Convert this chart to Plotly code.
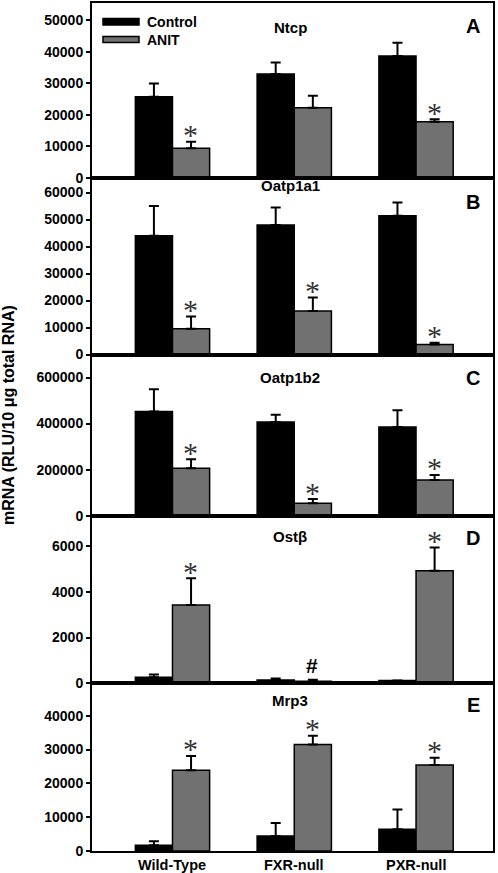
import plotly.graph_objects as go
from plotly.subplots import make_subplots

groups = ["Wild-Type", "FXR-null", "PXR-null"]
series_names = ["Control", "ANIT"]

genes = ["Ntcp", "Oatp1a1", "Oatp1b2", "Ostβ", "Mrp3"]
letters = ["A", "B", "C", "D", "E"]

ntcp_control = [25700, 32900, 38600]
ntcp_control_err = [4200, 3700, 4200]
ntcp_anit = [9400, 22200, 17800]
ntcp_anit_err = [2100, 3800, 800]
ntcp_sig = ["*", "", "*"]

oatp1a1_control = [44000, 48000, 51400]
oatp1a1_control_err = [11000, 6500, 4900]
oatp1a1_anit = [9500, 16100, 3700]
oatp1a1_anit_err = [4600, 5000, 700]
oatp1a1_sig = ["*", "*", "*"]

oatp1b2_control = [452000, 407000, 385000]
oatp1b2_control_err = [97000, 31000, 73000]
oatp1b2_anit = [206000, 54000, 155000]
oatp1b2_anit_err = [39000, 18000, 22000]
oatp1b2_sig = ["*", "*", "*"]

ostb_control = [260, 140, 120]
ostb_control_err = [120, 70, 0]
ostb_anit = [3420, 90, 4920]
ostb_anit_err = [1170, 60, 1010]
ostb_sig = ["*", "#", "*"]

mrp3_control = [1700, 4400, 6400]
mrp3_control_err = [1200, 3900, 5900]
mrp3_anit = [23900, 31500, 25400]
mrp3_anit_err = [4200, 2600, 2200]
mrp3_sig = ["*", "*", "*"]

y_ticks = [
    [0, 10000, 20000, 30000, 40000, 50000],
    [0, 10000, 20000, 30000, 40000, 50000, 60000],
    [0, 200000, 400000, 600000],
    [0, 2000, 4000, 6000],
    [0, 10000, 20000, 30000, 40000],
]
y_ranges = [[0, 55400], [0, 65400], [0, 700000], [0, 7325], [0, 49600]]

panels = [
    (ntcp_control, ntcp_control_err, ntcp_anit, ntcp_anit_err, ntcp_sig),
    (oatp1a1_control, oatp1a1_control_err, oatp1a1_anit, oatp1a1_anit_err, oatp1a1_sig),
    (oatp1b2_control, oatp1b2_control_err, oatp1b2_anit, oatp1b2_anit_err, oatp1b2_sig),
    (ostb_control, ostb_control_err, ostb_anit, ostb_anit_err, ostb_sig),
    (mrp3_control, mrp3_control_err, mrp3_anit, mrp3_anit_err, mrp3_sig),
]

W, H = 498, 873
m_l, m_r, m_t, m_b = 92, 5, 3, 22
plot_h = H - m_t - m_b
# panel boundaries in pixels (top of figure = 0)
bounds = [3, 178, 354.5, 515.7, 683.3, 851]
domains = []
for i in range(5):
    top = bounds[i]
    bot = bounds[i + 1]
    domains.append([(H - m_b - bot) / plot_h, (H - m_b - top) / plot_h])

title_off = [24, 7, 23, 21, 17.5]
letter_off = [23, 24, 23, 22, 22]

fig = make_subplots(rows=5, cols=1, shared_xaxes=True, vertical_spacing=0)

BLACK = "#000000"
GRAY = "#717171"
annotations = []

for i, (c, ce, a, ae, sig) in enumerate(panels):
    r = i + 1
    fig.add_trace(go.Bar(
        x=groups, y=c, name=series_names[0], showlegend=False,
        marker=dict(color=BLACK, line=dict(color=BLACK, width=1.5)),
        error_y=dict(type="data", array=ce, arrayminus=[0] * 3, symmetric=False,
                     color=BLACK, thickness=2, width=5),
    ), row=r, col=1)
    fig.add_trace(go.Bar(
        x=groups, y=a, name=series_names[1], showlegend=False,
        marker=dict(color=GRAY, line=dict(color=BLACK, width=1.5)),
        error_y=dict(type="data", array=ae, arrayminus=[0] * 3, symmetric=False,
                     color=BLACK, thickness=2, width=5),
    ), row=r, col=1)
    xa = "x" if r == 1 else f"x{r}"
    ya = "y" if r == 1 else f"y{r}"
    for g, v, e, s in zip(groups, a, ae, sig):
        if not s:
            continue
        if s == "*":
            annotations.append(dict(
                x=g, y=v + e, xref=xa, yref=ya, text="*", showarrow=False,
                xshift=18, yshift=7, yanchor="middle",
                font=dict(family="Liberation Serif", size=30, color="#333333")))
        else:
            annotations.append(dict(
                x=g, y=v + e, xref=xa, yref=ya, text="<b>#</b>", showarrow=False,
                xshift=18, yshift=14, yanchor="middle",
                font=dict(family="Liberation Sans", size=21, color=BLACK)))
    annotations.append(dict(
        x=(290 - m_l) / (W - m_l - m_r), y=1, xref="paper", yref=f"{ya} domain",
        yshift=-title_off[i], yanchor="middle", xanchor="center", showarrow=False,
        text=f"<b>{genes[i]}</b>", font=dict(family="Liberation Sans", size=15, color=BLACK)))
    annotations.append(dict(
        x=(473 - m_l) / (W - m_l - m_r), y=1, xref="paper", yref=f"{ya} domain",
        yshift=-letter_off[i], yanchor="middle", xanchor="center", showarrow=False,
        text=f"<b>{letters[i]}</b>", font=dict(family="Liberation Sans", size=20, color=BLACK)))

# category labels under the bottom panel
for g in groups:
    annotations.append(dict(
        x=g, y=0, xref="x5", yref="paper", yshift=-13.5, yanchor="middle",
        xanchor="center", showarrow=False, text=f"<b>{g}</b>",
        font=dict(family="Liberation Sans", size=14.5, color=BLACK)))

# legend (drawn manually to mimic wide swatches)
pw = W - m_l - m_r
def px_x(px):
    return (px - m_l) / pw
def px_y(py):
    return (H - m_b - py) / plot_h

shapes = [
    dict(type="rect", xref="paper", yref="paper", x0=px_x(103), x1=px_x(139),
         y0=px_y(25), y1=px_y(18.5), fillcolor=BLACK, line=dict(color=BLACK, width=1.5)),
    dict(type="rect", xref="paper", yref="paper", x0=px_x(103), x1=px_x(139),
         y0=px_y(42.5), y1=px_y(36.5), fillcolor=GRAY, line=dict(color=BLACK, width=1.5)),
]
annotations.append(dict(x=px_x(145), y=px_y(21.5), xref="paper", yref="paper",
                        xanchor="left", yanchor="middle", showarrow=False,
                        text="<b>Control</b>", font=dict(family="Liberation Sans", size=14, color=BLACK)))
annotations.append(dict(x=px_x(145), y=px_y(39.5), xref="paper", yref="paper",
                        xanchor="left", yanchor="middle", showarrow=False,
                        text="<b>ANIT</b>", font=dict(family="Liberation Sans", size=14, color=BLACK)))

# y axis title
annotations.append(dict(x=px_x(9), y=px_y(415), xref="paper", yref="paper",
                        xanchor="center", yanchor="middle", showarrow=False, textangle=-90,
                        text="<b>mRNA (RLU/10 μg total RNA)</b>",
                        font=dict(family="Liberation Sans", size=16, color=BLACK)))

fig.update_layout(
    template="none",
    width=W, height=H,
    margin=dict(l=m_l, r=m_r, t=m_t, b=m_b, autoexpand=False),
    paper_bgcolor="white", plot_bgcolor="white",
    barmode="group", bargap=0.39, bargroupgap=0,
    showlegend=False,
    annotations=annotations, shapes=shapes,
    font=dict(family="Liberation Sans", color=BLACK),
)

for i in range(5):
    r = i + 1
    fig.update_yaxes(row=r, col=1, domain=domains[i], range=y_ranges[i], automargin=False,
                     tickvals=y_ticks[i], ticktext=[f"<b>{t}</b>" for t in y_ticks[i]],
                     ticks="outside", ticklen=4, tickwidth=1.5, tickcolor=BLACK,
                     showline=True, linewidth=2, linecolor=BLACK, mirror=True,
                     showgrid=False, zeroline=False,
                     tickfont=dict(family="Liberation Sans", size=14, color=BLACK))
    fig.update_xaxes(row=r, col=1, range=[-0.661, 2.632], automargin=False,
                     showline=True, linewidth=2, linecolor=BLACK, mirror=True,
                     showgrid=False, zeroline=False, ticks="",
                     showticklabels=False)

fig.write_html(
    "out.html",
    config={"displayModeBar": False},
    post_script="document.body.style.margin='0';document.body.style.padding='0';"
                "document.body.style.overflow='hidden';",
)
